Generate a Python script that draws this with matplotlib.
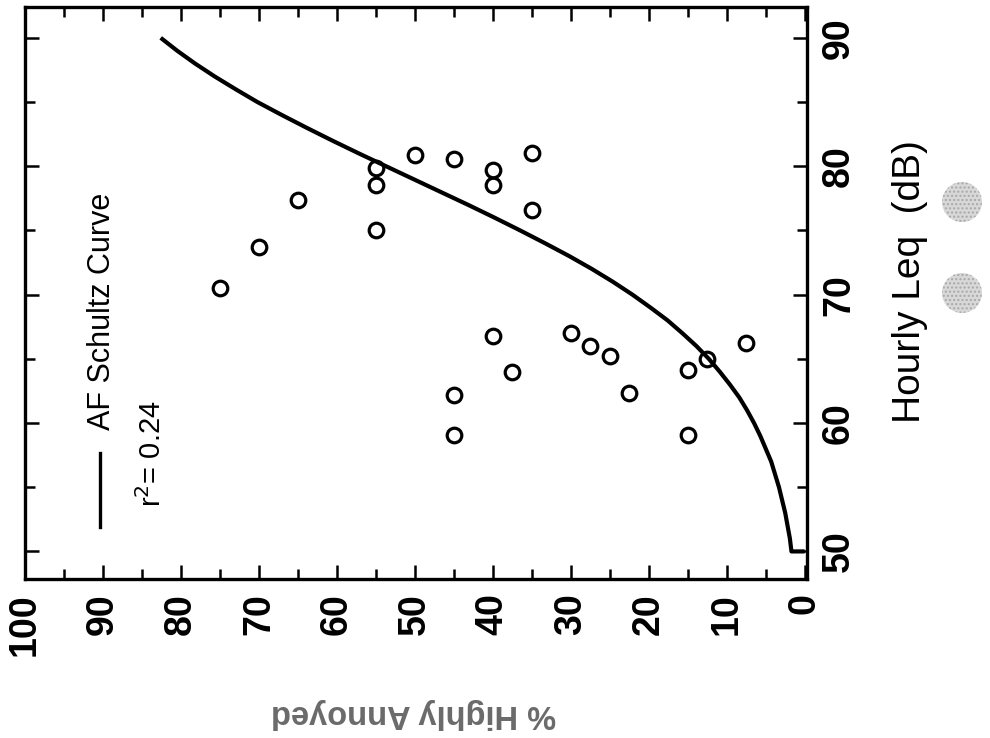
import numpy as np
import matplotlib
matplotlib.use("Agg")
import matplotlib.pyplot as plt
from matplotlib.ticker import MultipleLocator
from matplotlib.patches import Circle
from matplotlib.lines import Line2D

plt.rcParams['font.family'] = ['Liberation Sans', 'DejaVu Sans']

# survey points: % highly annoyed vs hourly Leq (dB)
pct_annoyed = [75, 70, 65, 55, 55, 55, 50, 45, 40, 40, 35, 35,
               40, 37.5, 45, 45, 30, 27.5, 25, 22.5, 15, 12.5, 7.5, 15]
leq_db = [70.5, 73.7, 77.4, 79.9, 78.5, 75.0, 80.9, 80.6, 79.7, 78.5, 81.0, 76.6,
          66.8, 64.0, 62.2, 59.1, 67.0, 66.0, 65.2, 62.3, 64.1, 65.0, 66.2, 59.1]

# AF Schultz curve
curve_db = [50, 50, 51, 52, 53, 54, 55, 56, 57, 58, 59, 60, 61, 62, 63, 64, 65, 66, 67, 68, 69, 70,
            71, 72, 73, 74, 75, 76, 77, 78, 79, 80, 81, 82, 83, 84, 85, 86, 87, 88, 89, 90]
curve_pct = [0.0, 1.7, 1.9, 2.2, 2.5, 2.9, 3.3, 3.8, 4.3, 5.0, 5.7, 6.5, 7.4, 8.4, 9.6, 10.9,
             12.3, 13.9, 15.7, 17.6, 19.8, 22.1, 24.6, 27.3, 30.2, 33.3, 36.5, 39.8, 43.2,
             46.7, 50.2, 53.7, 57.2, 60.6, 63.9, 67.1, 70.2, 73.0, 75.7, 78.2, 80.5, 82.6]

x_ticks = [100, 90, 80, 70, 60, 50, 40, 30, 20, 10, 0]
y_ticks = [50, 60, 70, 80, 90]

fig = plt.figure(figsize=(9.9, 7.38), dpi=100)
ax = fig.add_axes([0.0253, 0.2154, 0.7899, 0.7751])

ax.plot(curve_pct, curve_db, color='black', lw=3.0, solid_capstyle='butt', solid_joinstyle='round')
ax.plot(pct_annoyed, leq_db, 'o', ms=10.5, mfc='none', mec='black', mew=2.3)

ax.set_xlim(100, -0.3)
ax.set_ylim(47.85, 92.4)

ax.xaxis.set_minor_locator(MultipleLocator(5))
ax.yaxis.set_minor_locator(MultipleLocator(5))
ax.set_xticks(x_ticks)
ax.set_yticks(y_ticks)

for s in ax.spines.values():
    s.set_linewidth(2.4)

ax.tick_params(which='both', direction='in', top=True, bottom=True, left=True, right=True,
               labelleft=False, labelright=True, labelbottom=True, labeltop=False, width=1.8)
ax.tick_params(which='major', length=10, pad=10, labelsize=27)
ax.tick_params(which='minor', length=7.5)

for lab in ax.get_xticklabels():
    lab.set_rotation(90)
    lab.set_fontweight('bold')
for lab in ax.get_yticklabels():
    lab.set_rotation(90)
    lab.set_va('center')
    lab.set_fontweight('bold')

# rotated legend
fig.add_artist(Line2D([100/990, 100/990], [1-527/738, 1-453/738], color='black', lw=2.4))
fig.text(102/990, 1-311/738, 'AF Schultz Curve', rotation=90, ha='center', va='center', fontsize=22)
fig.text(152/990, 1-454/738, r'r$^2$= 0.24', rotation=90, ha='center', va='center', fontsize=21)

# axis titles
fig.text(910/990, 1-282/738, 'Hourly Leq  (dB)', rotation=90, ha='center', va='center', fontsize=28)
fig.text(414/990, 1-714/738, '% Highly Annoyed', rotation=180, ha='center', va='center',
         fontsize=23.5, fontweight='bold', color='#6a6a6a')

# punch-hole marks at the edge of the scan
for cy in [202, 293]:
    fig.add_artist(Circle((9.62, 7.38 - cy/100), 0.2, transform=fig.dpi_scale_trans,
                          facecolor='#d8d8d8', edgecolor='#a8a8a8', hatch='....', lw=0))

fig.savefig('out.png', dpi=100)
